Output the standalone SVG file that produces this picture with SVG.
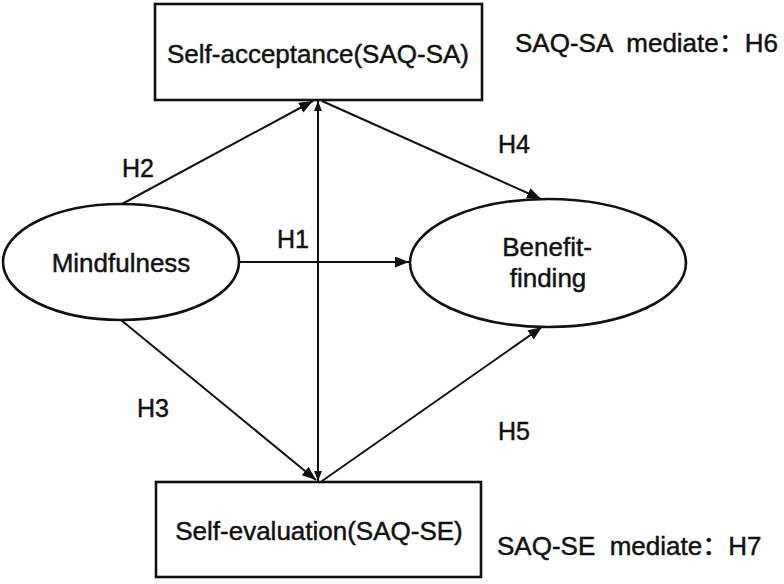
<svg xmlns="http://www.w3.org/2000/svg" width="784" height="584" viewBox="0 0 784 584">
<style>
.box{fill:#fff;stroke:#111;stroke-width:2.6}
.ell{fill:#fff;stroke:#111;stroke-width:2.6}
.edge{stroke:#111;stroke-width:2;fill:none}
text{font-family:"Liberation Sans","Noto Sans CJK SC",sans-serif;fill:#111;stroke:#111;stroke-width:0.45;white-space:pre}
.lbl{font-size:26px}
.h{font-size:25px}
</style>
<defs>
<marker id="ah" markerUnits="userSpaceOnUse" markerWidth="15" markerHeight="12" refX="14" refY="5.5" orient="auto">
<path d="M0,0 L14,5.5 L0,11 z" fill="#111"/>
</marker>
<marker id="ahs" markerUnits="userSpaceOnUse" markerWidth="11" markerHeight="9" refX="10" refY="4" orient="auto-start-reverse">
<path d="M0,0 L10,4 L0,8 z" fill="#111"/>
</marker>
</defs>
<rect width="784" height="584" fill="#fff"/>
<g id="connectors">
<line class="edge" x1="122" y1="204" x2="313" y2="101" marker-end="url(#ah)"/>
<line class="edge" x1="121" y1="320" x2="316" y2="480" marker-end="url(#ah)"/>
<line class="edge" x1="239" y1="262" x2="409" y2="262" marker-end="url(#ah)"/>
<line class="edge" x1="318" y1="101" x2="318" y2="481" marker-start="url(#ahs)" marker-end="url(#ahs)"/>
<line class="edge" x1="322" y1="101" x2="541" y2="199" marker-end="url(#ah)"/>
<line class="edge" x1="322" y1="481" x2="542" y2="327" marker-end="url(#ah)"/>
</g>
<g id="labels">
<text class="h" x="122" y="177">H2</text>
<text class="h" x="277" y="248">H1</text>
<text class="h" x="137" y="417">H3</text>
<text class="h" x="498" y="153">H4</text>
<text class="h" x="498" y="440">H5</text>
</g>
<g id="self-acceptance">
<rect class="box" x="155" y="4" width="327" height="96"/>
<text class="lbl" x="318" y="63" text-anchor="middle">Self-acceptance(SAQ-SA)</text>
</g>
<g id="self-evaluation">
<rect class="box" x="156" y="482" width="325" height="95"/>
<text class="lbl" x="319" y="540" text-anchor="middle">Self-evaluation(SAQ-SE)</text>
</g>
<g id="mindfulness">
<ellipse class="ell" cx="121" cy="262" rx="118" ry="58"/>
<text class="lbl" x="121" y="272" text-anchor="middle">Mindfulness</text>
</g>
<g id="benefit-finding">
<ellipse class="ell" cx="548" cy="263" rx="138" ry="64"/>
<text class="lbl" x="547" y="256" text-anchor="middle">Benefit-</text>
<text class="lbl" x="548" y="287" text-anchor="middle">finding</text>
</g>
<g id="notes">
<text class="lbl" x="515" y="52">SAQ-SA  mediate：H6</text>
<text class="lbl" x="497" y="555">SAQ-SE  mediate：H7</text>
</g>
</svg>
